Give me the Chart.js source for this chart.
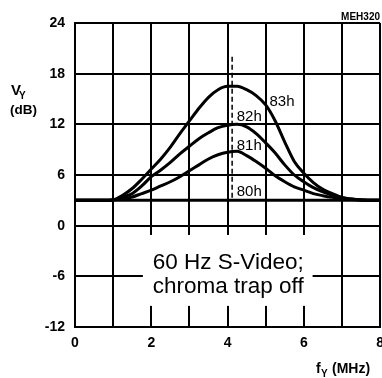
<!DOCTYPE html>
<html>
<head>
<meta charset="utf-8">
<script src="https://cdn.jsdelivr.net/npm/chart.js@4"></script>
<style>
  html, body { margin: 0; padding: 0; background: #fff; overflow: hidden; }
  #wrap { position: relative; width: 392px; height: 378px; }
</style>
</head>
<body>
<div id="wrap"><canvas id="gainChart"></canvas></div>
<script>
/* luma gain vs frequency, one curve per peaking register value */
const freqMHz = [0, 0.25, 0.5, 0.75, 1, 1.25, 1.5, 1.75, 2, 2.25, 2.5, 2.75, 3, 3.25, 3.5, 3.75,
  4, 4.25, 4.5, 4.75, 5, 5.25, 5.5, 5.75, 6, 6.25, 6.5, 6.75, 7, 7.25, 7.5, 7.75, 8];

const gain80h = [3, 3, 3, 3, 3, 3, 3, 3, 3, 3, 3, 3, 3, 3, 3, 3,
  3, 3, 3, 3, 3, 3, 3, 3, 3, 3, 3, 3, 3, 3, 3, 3, 3];
const gain81h = [3, 3, 3, 3, 3.05, 3.2, 3.4, 3.8, 4.2, 4.7, 5.2, 5.8, 6.5, 7.2, 7.9, 8.4,
  8.7, 8.8, 8.3, 7.6, 6.8, 5.9, 5.2, 4.6, 4.2, 3.8, 3.55, 3.35, 3.2, 3.1, 3.05, 3, 3];
const gain82h = [3, 3, 3, 3, 3.05, 3.4, 3.8, 4.7, 5.8, 6.6, 7.5, 8.5, 9.4, 10.3, 11.0, 11.6,
  11.9, 12.0, 11.7, 10.9, 9.8, 8.6, 7.2, 6.0, 5.2, 4.5, 4.0, 3.6, 3.3, 3.15, 3.05, 3, 3];
const gain83h = [3, 3, 3, 3, 3.05, 3.6, 4.4, 5.5, 6.7, 7.9, 9.3, 10.9, 12.4, 13.9, 15.2, 16.1,
  16.5, 16.5, 16.1, 15.4, 14.3, 12.4, 9.9, 7.6, 6.2, 5.1, 4.3, 3.8, 3.35, 3.15, 3.05, 3, 3];

const seriesNames = ['80h', '81h', '82h', '83h'];
const markerFreq = 4.12;          // dashed reference line
const markerRange = [20, 3];

const yTicks = [-12, -6, 0, 6, 12, 18, 24];
const xTicks = [0, 2, 4, 6, 8];

const toPoints = (ys) => freqMHz.map((f, i) => ({ x: f, y: ys[i] }));

const FONT = '"Liberation Sans", Arial, Helvetica, sans-serif';

const annotations = {
  id: 'annotations',
  beforeDatasetsDraw(chart) {
    // white panel behind the caption hides the grid
    const { ctx, scales: { x, y } } = chart;
    const l = x.getPixelForValue(1.78), r = x.getPixelForValue(6.23);
    const t = y.getPixelForValue(-1.1), b = y.getPixelForValue(-9.5);
    ctx.save();
    ctx.fillStyle = '#fff';
    ctx.fillRect(l, t, r - l, b - t);
    ctx.restore();
  },
  afterDatasetsDraw(chart) {
    const { ctx, scales: { x, y } } = chart;
    ctx.save();
    ctx.fillStyle = '#000';
    ctx.textBaseline = 'middle';
    ctx.textAlign = 'left';
    ctx.font = `15px ${FONT}`;
    ctx.fillText(seriesNames[3], x.getPixelForValue(5.1), y.getPixelForValue(14.7));
    ctx.fillText(seriesNames[2], x.getPixelForValue(4.24), y.getPixelForValue(12.9));
    ctx.fillText(seriesNames[1], x.getPixelForValue(4.24), y.getPixelForValue(9.4));
    ctx.fillText(seriesNames[0], x.getPixelForValue(4.24), y.getPixelForValue(4.0));

    ctx.textBaseline = 'alphabetic';
    ctx.font = `22.5px ${FONT}`;
    ctx.fillText('60 Hz S-Video;', x.getPixelForValue(2.04), y.getPixelForValue(-5.1));
    ctx.fillText('chroma trap off', x.getPixelForValue(2.04), y.getPixelForValue(-7.95));
    ctx.restore();
  },
  afterDraw(chart) {
    const { ctx } = chart;
    ctx.save();
    ctx.fillStyle = '#000';
    ctx.textBaseline = 'alphabetic';
    ctx.textAlign = 'left';
    // y axis title
    ctx.font = `bold 15px ${FONT}`;
    ctx.fillText('V', 11, 95);
    ctx.font = `bold 10px ${FONT}`;
    ctx.fillText('Y', 19, 99);
    ctx.font = `bold 13.5px ${FONT}`;
    ctx.fillText('(dB)', 10, 114);
    // x axis title
    ctx.font = `bold 14px ${FONT}`;
    ctx.fillText('f', 316, 373);
    ctx.font = `bold 10px ${FONT}`;
    ctx.fillText('Y', 321, 377);
    ctx.font = `bold 14px ${FONT}`;
    ctx.fillText('(MHz)', 332, 373);
    // figure code
    ctx.textAlign = 'right';
    ctx.font = `bold 10px ${FONT}`;
    ctx.fillText('MEH320', 380, 20);
    ctx.restore();
  }
};

const curve = (label, ys) => ({
  label,
  data: toPoints(ys),
  borderColor: '#000',
  borderWidth: 3,
  pointRadius: 0,
  cubicInterpolationMode: 'monotone',
  fill: false,
});

new Chart(document.getElementById('gainChart'), {
  type: 'line',
  data: {
    datasets: [
      curve(seriesNames[0], gain80h),
      curve(seriesNames[1], gain81h),
      curve(seriesNames[2], gain82h),
      curve(seriesNames[3], gain83h),
      {
        label: 'marker',
        data: markerRange.map((v) => ({ x: markerFreq, y: v })),
        borderColor: '#000',
        borderWidth: 1.5,
        borderDash: [5, 3],
        pointRadius: 0,
      },
    ],
  },
  options: {
    responsive: true,
    maintainAspectRatio: false,
    animation: false,
    layout: { padding: { top: 23, left: 0, right: 0, bottom: 0 } },
    plugins: { legend: { display: false }, tooltip: { enabled: false } },
    scales: {
      x: {
        type: 'linear', min: 0, max: 8,
        afterBuildTicks: (s) => { s.ticks = [0, 1, 2, 3, 4, 5, 6, 7, 8].map((v) => ({ value: v })); },
        ticks: {
          autoSkip: false, maxRotation: 0, padding: 8, color: '#000',
          font: { family: FONT, size: 14, weight: 'bold' },
          callback: (v) => (xTicks.includes(v) ? String(v) : ''),
        },
        grid: { color: '#000', lineWidth: 2, drawTicks: false },
        border: { color: '#000', width: 2 },
        afterFit: (s) => { s.height = 51; },
      },
      y: {
        min: -12, max: 24,
        afterBuildTicks: (s) => { s.ticks = yTicks.map((v) => ({ value: v })); },
        ticks: {
          padding: 10, color: '#000',
          font: { family: FONT, size: 14, weight: 'bold' },
        },
        grid: { color: '#000', lineWidth: 2, drawTicks: false },
        border: { color: '#000', width: 2 },
        afterFit: (s) => { s.width = 75; },
      },
    },
  },
  plugins: [annotations],
});
</script>
</body>
</html>
